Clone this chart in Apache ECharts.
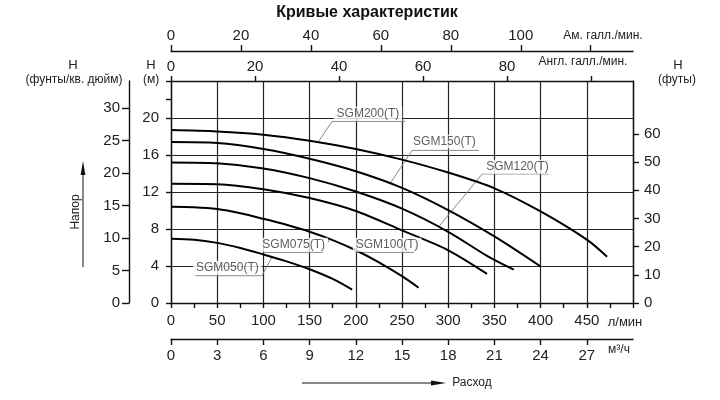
<!DOCTYPE html>
<html>
<head>
<meta charset="utf-8">
<script src="https://cdn.jsdelivr.net/npm/echarts@6/dist/echarts.min.js"></script>
<style>
  html, body { margin: 0; background: #fff; }
  #chart { width: 720px; height: 400px; }
</style>
</head>
<body>
<div id="chart"></div>
<script>
// flow in l/min, head in m
const sgm050 = [[0, 6.95], [25, 6.85], [50, 6.5], [75, 5.95], [100, 5.25], [125, 4.5], [150, 3.65], [175, 2.6], [196, 1.45]]
const sgm075 = [[0, 10.4], [25, 10.35], [50, 10.15], [75, 9.7], [100, 9.1], [125, 8.45], [150, 7.7], [175, 6.8], [200, 5.7], [225, 4.4], [250, 2.9], [268, 1.65]]
const sgm100 = [[0, 12.9], [50, 12.85], [100, 12.3], [150, 11.35], [200, 9.95], [250, 7.85], [300, 5.7], [342, 3.15]]
const sgm120 = [[0, 15.2], [50, 15.1], [100, 14.55], [150, 13.5], [200, 12.05], [250, 10.2], [300, 7.7], [342, 5.1], [371, 3.6]]
const sgm150 = [[0, 17.4], [50, 17.3], [100, 16.65], [150, 15.6], [200, 14.25], [250, 12.45], [300, 10.05], [350, 7.2], [400, 3.95]]
const sgm200 = [[0, 18.7], [50, 18.55], [100, 18.2], [150, 17.55], [200, 16.65], [250, 15.5], [300, 14.1], [350, 12.4], [400, 9.9], [450, 6.85], [472, 5.0]]

const curves = [sgm050, sgm075, sgm100, sgm120, sgm150, sgm200]
const modelNames = ['SGM050(T)', 'SGM075(T)', 'SGM100(T)', 'SGM120(T)', 'SGM150(T)', 'SGM200(T)']

// tick labels
const lpmTicks = [0, 50, 100, 150, 200, 250, 300, 350, 400, 450]
const m3hTicks = [0, 3, 6, 9, 12, 15, 18, 21, 24, 27]
const impGalTicks = [0, 20, 40, 60, 80]
const usGalTicks = [0, 20, 40, 60, 80, 100]
const headMTicks = [0, 4, 8, 12, 16, 20]
const psiTicks = [0, 5, 10, 15, 20, 25, 30]
const feetTicks = [0, 10, 20, 30, 40, 50, 60]

const FLOW_MAX = 500
const HEAD_MAX = 24
const L_PER_IMP_GAL = 4.54609
const L_PER_US_GAL = 3.78541
const M_PER_PSI = 0.70307
const M_PER_FT = 0.3048

// curve label placement (l/min, m): text centre, underline ends, leader end on the curve
const labelCentres = [[61, 3.82], [132.8, 6.3], [233.9, 6.3], [375, 14.74], [295.9, 17.47], [213.1, 20.46]]
const labelLeaders = [
    [[26.3, 2.95], [98.5, 2.95], [109.4, 5.0]],
    [[100.3, 5.47], [163.8, 5.47], [171.4, 6.84]],
    [[199.6, 5.47], [262.7, 5.47], [268.9, 6.95]],
    [[408.9, 13.95], [336.8, 13.95], [289.8, 8.25]],
    [[333.1, 16.5], [261, 16.5], [237.5, 12.97]],
    [[253.7, 19.63], [174.3, 19.63], [159.8, 17.47]]
]

const FONT = "'Liberation Sans', Arial, sans-serif"
const INK = '#111'
const lineStyle = { color: INK, width: 1.4 }
const tickLabel = { color: '#222', fontSize: 15, fontFamily: FONT }
const axisLine = { show: true, onZero: false, lineStyle }
const tick = (len, values) => ({ show: true, length: len, lineStyle, customValues: values })

const chart = echarts.init(document.getElementById('chart'))

const series = curves.map((pts, i) => ({
    name: modelNames[i],
    type: 'line',
    data: pts,
    smooth: 0.3,
    symbol: 'none',
    lineStyle: { color: '#000', width: 2 },
    z: 4,
    silent: true
}))

labelLeaders.forEach(path => {
    series.push({
        type: 'line',
        data: path,
        symbol: 'none',
        lineStyle: { color: '#888', width: 1 },
        z: 3,
        silent: true
    })
})

series.push({
    type: 'scatter',
    data: labelCentres.map((c, i) => ({ value: c, name: modelNames[i] })),
    symbolSize: 1,
    itemStyle: { color: 'rgba(0,0,0,0)' },
    label: {
        show: true,
        position: 'inside',
        formatter: '{b}',
        color: '#333',
        fontSize: 12,
        fontFamily: FONT,
        backgroundColor: '#fff',
        padding: [1, 3]
    },
    z: 5,
    silent: true
})

const text = (x, y, str, extra) => ({
    type: 'text',
    x: x,
    y: y,
    silent: true,
    style: Object.assign({
        text: str,
        align: 'center',
        verticalAlign: 'middle',
        fill: '#222',
        fontSize: 12,
        fontFamily: FONT
    }, extra || {})
})

const option = {
    animation: false,
    backgroundColor: '#fff',
    grid: { left: 171, right: 87, top: 81, bottom: 97, containLabel: false },
    xAxis: [
        {
            type: 'value', position: 'bottom', min: 0, max: FLOW_MAX, interval: 50,
            axisLine,
            axisTick: { show: true, length: 5, lineStyle },
            minorTick: { show: true, splitNumber: 2, length: 5, lineStyle },
            splitLine: { show: true, lineStyle: { color: '#222', width: 1.2 } },
            axisLabel: Object.assign({ margin: 10, customValues: lpmTicks }, tickLabel)
        },
        {
            type: 'value', position: 'top', min: 0, max: FLOW_MAX / L_PER_IMP_GAL,
            axisLine,
            axisTick: tick(5, impGalTicks.concat([100])),
            splitLine: { show: false },
            axisLabel: Object.assign({ margin: 7, customValues: impGalTicks }, tickLabel)
        },
        {
            type: 'value', position: 'top', offset: 30, min: 0, max: FLOW_MAX / L_PER_US_GAL,
            axisLine,
            axisTick: tick(6, usGalTicks.concat([120])),
            splitLine: { show: false },
            axisLabel: Object.assign({ margin: 8, customValues: usGalTicks }, tickLabel)
        },
        {
            type: 'value', position: 'bottom', offset: 36, min: 0, max: FLOW_MAX * 60 / 1000,
            axisLine,
            axisTick: tick(6, m3hTicks),
            splitLine: { show: false },
            axisLabel: Object.assign({ margin: 9, customValues: m3hTicks }, tickLabel)
        }
    ],
    yAxis: [
        {
            type: 'value', position: 'left', min: 0, max: HEAD_MAX, interval: 4,
            axisLine,
            axisTick: { show: true, length: 5, lineStyle },
            splitLine: { show: true, lineStyle: { color: '#222', width: 1.2 } },
            axisLabel: Object.assign({ margin: 12, customValues: headMTicks }, tickLabel)
        },
        {
            type: 'value', position: 'left', offset: 42, min: 0, max: HEAD_MAX / M_PER_PSI,
            axisLine,
            axisTick: tick(7, psiTicks),
            splitLine: { show: false },
            axisLabel: Object.assign({ margin: 9, customValues: psiTicks }, tickLabel)
        },
        {
            type: 'value', position: 'right', min: 0, max: HEAD_MAX / M_PER_FT,
            axisLine,
            axisTick: tick(6, feetTicks),
            splitLine: { show: false },
            axisLabel: Object.assign({ margin: 11, customValues: feetTicks }, tickLabel)
        },
        {
            // the lone 22 m tick
            type: 'value', position: 'left', min: 0, max: HEAD_MAX,
            axisLine: { show: false, onZero: false },
            axisTick: tick(5, [22]),
            splitLine: { show: false },
            axisLabel: { show: false }
        }
    ],
    graphic: [
        text(367, 13, 'Кривые характеристик', { fontSize: 16, fontWeight: 'bold', fill: '#111' }),
        text(73, 65, 'H', { fontSize: 13 }),
        text(74, 80, '(фунты/кв. дюйм)'),
        text(151, 65, 'H', { fontSize: 13 }),
        text(151, 80, '(м)'),
        text(678, 65, 'H', { fontSize: 13 }),
        text(677, 80, '(футы)'),
        text(603, 36, 'Ам. галл./мин.'),
        text(583, 62, 'Англ. галл./мин.'),
        text(625, 322, 'л/мин', { fontSize: 13 }),
        text(619, 350, 'м³/ч'),
        text(472, 383, 'Расход', { fontSize: 12 }),
        Object.assign(text(76, 212, 'Напор', { fontSize: 12 }), { rotation: Math.PI / 2 }),
        { type: 'line', silent: true, shape: { x1: 83, y1: 267, x2: 83, y2: 170 }, style: { stroke: INK, lineWidth: 1 } },
        { type: 'polygon', silent: true, shape: { points: [[83, 161], [80.6, 175], [85.4, 175]] }, style: { fill: INK } },
        { type: 'line', silent: true, shape: { x1: 302, y1: 383, x2: 436, y2: 383 }, style: { stroke: INK, lineWidth: 1 } },
        { type: 'polygon', silent: true, shape: { points: [[446, 383], [431, 380.6], [431, 385.4]] }, style: { fill: INK } }
    ],
    series: series
}

chart.setOption(option)
</script>
</body>
</html>
